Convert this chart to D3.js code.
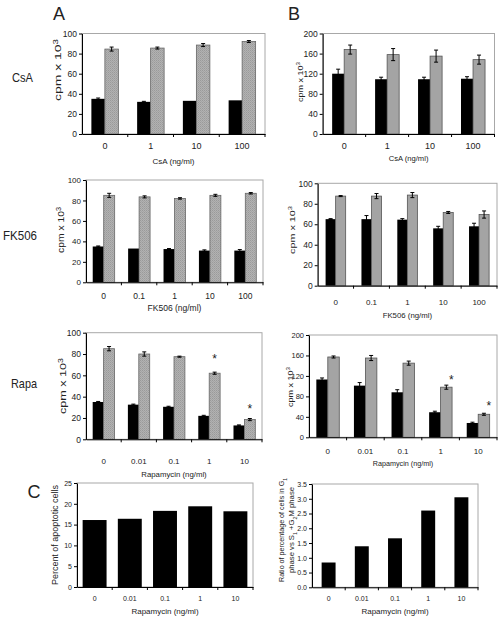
<!DOCTYPE html>
<html><head><meta charset="utf-8">
<script src="https://cdn.jsdelivr.net/npm/d3@7"></script>
<style>body{margin:0;background:#fff} text{font-family:"Liberation Sans",Arial,sans-serif;fill:#222}</style>
</head><body><svg id="c" width="498" height="619"></svg>
<script>
// ---------- data ----------
const csaDoses = ["0", "1", "10", "100"];
const fkDoses = ["0", "0.1", "1", "10", "100"];
const rapaDoses = ["0", "0.01", "0.1", "1", "10"];

const a1Black = [35, 32, 33, 33.5];
const a1BlackErr = [0.8, 0.5, 0, 0];
const a1Gray = [84.5, 85.5, 88.5, 92];
const a1GrayErr = [2, 1, 1.5, 1];

const b1Black = [120, 109, 109, 110];
const b1BlackErr = [9, 4, 4, 4];
const b1Gray = [168, 158, 155, 148];
const b1GrayErr = [9, 12, 12, 9];

const a2Black = [35, 33, 32.5, 31, 31];
const a2BlackErr = [0.5, 0, 0.5, 0.7, 1];
const a2Gray = [85, 83.5, 82, 85, 87];
const a2GrayErr = [2, 1, 0.7, 1, 0.7];

const b2Black = [65, 65, 64.5, 56, 58];
const b2BlackErr = [0.5, 3.5, 1, 2, 3];
const b2Gray = [87.5, 87.5, 88.5, 71.5, 69.5];
const b2GrayErr = [0.5, 2.5, 2.5, 1, 3.5];

const a3Black = [35, 32.5, 30.5, 22, 13];
const a3BlackErr = [0.5, 0.5, 0.5, 0.5, 0.5];
const a3Gray = [85, 80, 77.5, 62, 18.5];
const a3GrayErr = [2, 2, 0.5, 1, 1];
const a3Stars = [null, null, null, 79, 33];

const b3Black = [113, 101, 88, 49, 28];
const b3BlackErr = [3, 6, 5, 2, 1.5];
const b3Gray = [157, 155, 145, 98, 45];
const b3GrayErr = [2, 5, 4, 4, 2];
const b3Stars = [null, null, null, 120, 70];

const c1Apoptotic = [16.1, 16.4, 18.3, 19.4, 18.2];
const c2Ratio = [0.84, 1.39, 1.66, 2.6, 3.05];

const ticks100 = [0, 20, 40, 60, 80, 100];
const ticks200 = [0, 40, 80, 120, 160, 200];
const ticksC1 = [0, 5, 10, 15, 20, 25];
const ticksC2 = [0, 0.5, 1, 1.5, 2, 2.5, 3, 3.5];

// ---------- drawing ----------
const svg = d3.select("#c");
const defs = svg.append("defs");
const pat = defs.append("pattern").attr("id", "dither").attr("width", 2).attr("height", 2)
  .attr("patternUnits", "userSpaceOnUse");
pat.append("rect").attr("width", 2).attr("height", 2).attr("fill", "#b2b2b2");
pat.append("rect").attr("width", 1).attr("height", 1).attr("fill", "#9a9a9a");
pat.append("rect").attr("x", 1).attr("y", 1).attr("width", 1).attr("height", 1).attr("fill", "#a4a4a4");

function panel(p) {
  const g = svg.append("g");
  const x = d3.scaleBand().domain(p.cats).range([p.left, p.right]);
  const n = p.series.length;
  const po = n / 2 * (1 / (1 - p.pad) - 1);
  const xi = d3.scaleBand().domain(d3.range(n)).range([0, x.bandwidth()]).paddingInner(0).paddingOuter(po);
  const y = d3.scaleLinear().domain([0, p.max]).range([p.bottom, p.top]);

  // frame
  g.append("rect").attr("x", p.left).attr("y", p.top)
    .attr("width", p.right - p.left).attr("height", p.bottom - p.top)
    .attr("fill", "none").attr("stroke", "#a8a8a8").attr("stroke-width", 1);

  // bars
  p.series.forEach((s, si) => {
    g.selectAll(null).data(s.vals).enter().append("rect")
      .attr("x", (d, i) => x(p.cats[i]) + xi(si))
      .attr("y", d => y(d))
      .attr("width", xi.bandwidth())
      .attr("height", d => y(0) - y(d))
      .attr("fill", s.fill)
      .attr("stroke", s.stroke || "none")
      .attr("stroke-width", 0.8);
    if (s.errs) {
      s.vals.forEach((v, i) => {
        const e = s.errs[i];
        if (!e) return;
        const cx = x(p.cats[i]) + xi(si) + xi.bandwidth() / 2;
        g.append("line").attr("x1", cx).attr("x2", cx).attr("y1", y(v - e)).attr("y2", y(v + e))
          .attr("stroke", "#000").attr("stroke-width", 1);
        [v - e, v + e].forEach(t => g.append("line").attr("x1", cx - 2).attr("x2", cx + 2)
          .attr("y1", y(t)).attr("y2", y(t)).attr("stroke", "#000").attr("stroke-width", 1));
      });
    }
    if (s.stars) {
      s.stars.forEach((v, i) => {
        if (v == null) return;
        const cx = x(p.cats[i]) + xi(si) + xi.bandwidth() / 2 + (p.starDx || 0);
        g.append("text").attr("x", cx).attr("y", y(v)).attr("dy", "0.7em")
          .attr("text-anchor", "middle").attr("font-size", 12).text("*");
      });
    }
  });

  // y axis
  const ya = g.append("g").attr("transform", `translate(${p.left},0)`)
    .call(d3.axisLeft(y).tickValues(p.ticks).tickSize(3).tickSizeOuter(0).tickPadding(2));
  ya.select(".domain").attr("stroke", "#000");
  ya.selectAll("text").attr("font-size", p.tickFont).attr("fill", "#222");

  // x axis
  const xa = g.append("g").attr("transform", `translate(0,${p.bottom})`)
    .call(d3.axisBottom(x).tickSize(0).tickPadding(0).tickSizeOuter(0));
  xa.select(".domain").attr("stroke", "#000");
  xa.selectAll("text").attr("font-size", p.catFont).attr("dy", null).attr("y", p.catDy).attr("fill", "#222");
  xa.selectAll(null).data(p.cats.slice(1)).enter().append("line")
    .attr("x1", d => x(d)).attr("x2", d => x(d)).attr("y1", 0).attr("y2", 3).attr("stroke", "#000");
  xa.append("line").attr("x1", p.right).attr("x2", p.right).attr("y1", 0).attr("y2", 3).attr("stroke", "#000");

  // titles
  g.append("text").attr("x", (p.left + p.right) / 2).attr("y", p.bottom + p.titleDy)
    .attr("text-anchor", "middle").attr("font-size", p.titleFont).text(p.xTitle);
  p.yTitle.forEach((lines, li) => {
    const t = g.append("text")
      .attr("transform", `translate(${p.yTitleX[li]},${p.yTitleY}) rotate(-90)`)
      .attr("text-anchor", "middle").attr("dy", "0.35em").attr("font-size", p.yTitleFont)
      .attr("textLength", p.yTitleLen[li]).attr("lengthAdjust", "spacingAndGlyphs");
    lines.forEach(part => {
      const ts = t.append("tspan").text(part.t);
      if (part.sup) ts.attr("baseline-shift", "super").attr("font-size", p.yTitleFont * 0.7);
      if (part.sub) ts.attr("baseline-shift", "sub").attr("font-size", p.yTitleFont * 0.7);
    });
  });
}

const cpm = [[{ t: "cpm x 10" }, { t: "3", sup: true }]];
const blackS = (v, e) => ({ vals: v, errs: e, fill: "#000" });

panel({ cats: csaDoses, left: 82, right: 265, top: 33.5, bottom: 134, max: 100, ticks: ticks100, pad: 0.41,
  series: [blackS(a1Black, a1BlackErr), { vals: a1Gray, errs: a1GrayErr, fill: "url(#dither)", stroke: "#666" }],
  tickFont: 8.5, catFont: 9, catDy: 14.5, titleFont: 8, titleDy: 29.5, xTitle: "CsA (ng/ml)",
  yTitle: cpm, yTitleX: [58], yTitleY: 70, yTitleLen: [62], yTitleFont: 9 });

panel({ cats: csaDoses, left: 322.7, right: 494.5, top: 33.5, bottom: 134, max: 200, ticks: ticks200, pad: 0.44,
  series: [blackS(b1Black, b1BlackErr), { vals: b1Gray, errs: b1GrayErr, fill: "#a4a4a4", stroke: "#555" }],
  tickFont: 8.5, catFont: 9, catDy: 15, titleFont: 7.6, titleDy: 27, xTitle: "CsA (ng/ml)",
  yTitle: cpm, yTitleX: [300], yTitleY: 82, yTitleLen: [40], yTitleFont: 8 });

panel({ cats: fkDoses, left: 86, right: 263, top: 180, bottom: 282.3, max: 100, ticks: ticks100, pad: 0.38,
  series: [blackS(a2Black, a2BlackErr), { vals: a2Gray, errs: a2GrayErr, fill: "url(#dither)", stroke: "#666" }],
  tickFont: 8, catFont: 8.5, catDy: 17, titleFont: 8.5, titleDy: 28.5, xTitle: "FK506 (ng/ml)",
  yTitle: cpm, yTitleX: [61], yTitleY: 230, yTitleLen: [46], yTitleFont: 9 });

panel({ cats: fkDoses, left: 317.7, right: 497, top: 183.3, bottom: 285.7, max: 100, ticks: ticks100, pad: 0.44,
  series: [blackS(b2Black, b2BlackErr), { vals: b2Gray, errs: b2GrayErr, fill: "#a4a4a4", stroke: "#555" }],
  tickFont: 8.5, catFont: 8, catDy: 19, titleFont: 7.8, titleDy: 32, xTitle: "FK506 (ng/ml)",
  yTitle: cpm, yTitleX: [292], yTitleY: 230, yTitleLen: [48], yTitleFont: 8 });

panel({ cats: rapaDoses, left: 86, right: 262, top: 332.7, bottom: 439.3, max: 100, ticks: ticks100, pad: 0.38,
  series: [blackS(a3Black, a3BlackErr), { vals: a3Gray, errs: a3GrayErr, fill: "url(#dither)", stroke: "#666", stars: a3Stars }],
  tickFont: 8.5, catFont: 8, catDy: 25, titleFont: 7.8, titleDy: 38, xTitle: "Rapamycin (ng/ml)",
  yTitle: cpm, yTitleX: [63], yTitleY: 386, yTitleLen: [56], yTitleFont: 9 });

panel({ cats: rapaDoses, left: 309, right: 497, top: 335, bottom: 437.3, max: 200, ticks: ticks200, pad: 0.39,
  series: [blackS(b3Black, b3BlackErr), { vals: b3Gray, errs: b3GrayErr, fill: "#a4a4a4", stroke: "#555", stars: b3Stars }],
  starDx: 5, tickFont: 7.5, catFont: 8, catDy: 17, titleFont: 7.2, titleDy: 29, xTitle: "Rapamycin (ng/ml)",
  yTitle: cpm, yTitleX: [290], yTitleY: 387, yTitleLen: [40], yTitleFont: 7.5 });

panel({ cats: rapaDoses, left: 77, right: 253, top: 483, bottom: 587, max: 25, ticks: ticksC1, pad: 0.32,
  series: [{ vals: c1Apoptotic, fill: "#000" }],
  tickFont: 7, catFont: 7, catDy: 14, titleFont: 8, titleDy: 27, xTitle: "Rapamycin (ng/ml)",
  yTitle: [[{ t: "Percent of apoptotic cells" }]], yTitleX: [55], yTitleY: 535, yTitleLen: [100], yTitleFont: 8.5 });

panel({ cats: rapaDoses, left: 312, right: 478, top: 484, bottom: 587.3, max: 3.5, ticks: ticksC2, pad: 0.58,
  series: [{ vals: c2Ratio, fill: "#000" }],
  tickFont: 7, catFont: 7, catDy: 14, titleFont: 8, titleDy: 27, xTitle: "Rapamycin (ng/ml)",
  yTitle: [[{ t: "Ratio of percentage of cells in G" }, { t: "1", sub: true }],
           [{ t: "phase vs S" }, { t: "1", sub: true }, { t: " +G" }, { t: "2", sub: true }, { t: "M phase" }]],
  yTitleX: [281.5, 291.5], yTitleY: 530, yTitleLen: [104, 86], yTitleFont: 8 });

// panel letters and row labels
const letters = [["A", 59, 20], ["B", 294, 20], ["C", 34, 498]];
letters.forEach(([t, x, yy]) => svg.append("text").attr("x", x).attr("y", yy).attr("text-anchor", "middle")
  .attr("font-size", 18).text(t));
const rows = [["CsA", 22.5, 82, 21], ["FK506", 20, 240, 34], ["Rapa", 24, 388, 26]];
rows.forEach(([t, x, yy, len]) => svg.append("text").attr("x", x).attr("y", yy).attr("text-anchor", "middle")
  .attr("font-size", 13).attr("textLength", len).attr("lengthAdjust", "spacingAndGlyphs").text(t));
</script>
</body></html>
